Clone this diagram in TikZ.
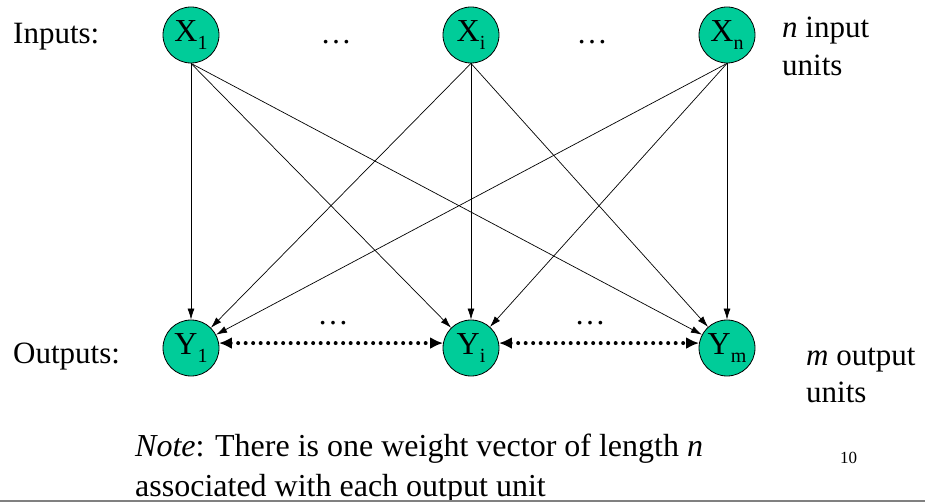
\documentclass[tikz,border=0pt]{standalone}
\usepackage{fontspec}
\setmainfont{Liberation Serif}
\usetikzlibrary{arrows.meta}
\definecolor{unitgreen}{RGB}{0,204,153}
\definecolor{rulegray}{RGB}{128,128,128}
% unit label: letter with a lowered, smaller index
\newcommand{\unitlbl}[2]{#1\raisebox{-8pt}{\fontsize{20}{20}\selectfont #2}}

\begin{document}
\begin{tikzpicture}[x=1pt,y=-1pt,
  unit/.style={circle, draw=black, line width=0.8pt, fill=unitgreen,
    minimum size=56pt, inner sep=0pt, font=\fontsize{32}{32}\selectfont},
  lbl/.style={anchor=base west, inner sep=0pt, font=\fontsize{31}{31}\selectfont},
  gap/.style={anchor=base, inner sep=0pt, font=\fontsize{31}{31}\selectfont},
  wt/.style={-{Latex[length=11pt,width=7pt]}, line width=0.7pt},
  lat/.style={{Latex[length=13pt,width=12pt]}-{Latex[length=13pt,width=12pt]},
    line width=4pt, line cap=round, dash pattern=on 0pt off 7.5pt},
]
\useasboundingbox (0,0) rectangle (925,502);

% input and output units
\node[unit] (X1) at (191,35) {\unitlbl{X}{1}};
\node[unit] (Xi) at (471,35) {\unitlbl{X}{i}};
\node[unit] (Xn) at (727,35) {\unitlbl{X}{n}};
\node[unit] (Y1) at (191,348) {\unitlbl{Y}{1}};
\node[unit] (Yi) at (471,348) {\unitlbl{Y}{i}};
\node[unit] (Ym) at (727,348) {\unitlbl{Y}{m}};

% full connection: every input feeds every output
\foreach \s in {X1,Xi,Xn}
  \foreach \t in {Y1,Yi,Ym}
    \draw[wt] (\s.south) -- (\t);

% lateral links among output units
\draw[lat] (Y1.10) -- (Yi.170);
\draw[lat] (Yi.10) -- (Ym.170);

% elided units
\node[gap] (d1) at (336,44) {…};
\node[gap] (d2) at (592,44) {…};
\node[gap] (d3) at (333,324) {…};
\node[gap] (d4) at (590,324) {…};

% side labels
\node[lbl] (inl) at (13,44) {Inputs:};
\node[lbl] (outl) at (13,363) {Outputs:};
\node[lbl] (nin1) at (782,38) {\textit{n} input};
\node[lbl] (nin2) at (782,76) {units};
\node[lbl] (mout1) at (806,365) {\textit{m} output};
\node[lbl] (mout2) at (806,402) {units};

% note and page number
\node[lbl, font=\fontsize{32}{32}\selectfont] (note1) at (135,456) {\textit{Note}: There is one weight vector of length \textit{n}};
\node[lbl, font=\fontsize{32}{32}\selectfont] (note2) at (135,496) {associated with each output unit};
\node[anchor=base west, inner sep=0pt, font=\fontsize{17}{17}\selectfont] (pg) at (840,463) {10};

% bottom rule
\draw[rulegray, line width=2.5pt] (0,500.8) -- (925,500.8);
\end{tikzpicture}
\end{document}
